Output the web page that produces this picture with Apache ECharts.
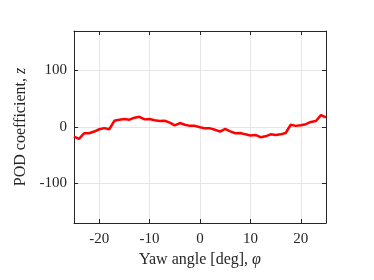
<!DOCTYPE html>
<html><head><meta charset="utf-8">
<script src="https://cdn.jsdelivr.net/npm/echarts@6/dist/echarts.min.js"></script>
<style>html,body{margin:0;padding:0;background:#fff}#c{width:374px;height:280px}</style>
</head><body><div id="c"></div>
<script>
var yawAngles = [-25,-24,-23,-22,-21,-20,-19,-18,-17,-16,-15,-14,-13,-12,-11,-10,-9,-8,-7,-6,-5,-4,-3,-2,-1,0,1,2,3,4,5,6,7,8,9,10,11,12,13,14,15,16,17,18,19,20,21,22,23,24,25];
var podCoeff = [-17,-21,-11,-11,-8,-4,-2,-4,11,13,14,13,16.5,18,13.5,14,12,10.6,11,7.7,3,7,4,2,2,-0.5,-2.4,-2.4,-5,-8,-3.5,-7.7,-11,-10.6,-13,-15,-14,-18,-16.5,-13,-14,-13,-10.6,4,2,3,5,9,10.6,21,17];
var xTicks = [-20,-10,0,10,20];
var yTicks = [-100,0,100];

var data = yawAngles.map(function(x,i){return [x,podCoeff[i]];});
var font = 'Liberation Serif';
var axisColor = '#262626';
function mkAxis(opts){
  return Object.assign({
    type:'value',
    axisLine:{show:true,onZero:false,lineStyle:{color:axisColor,width:1}},
    splitLine:{show:false}
  }, opts);
}
var chart = echarts.init(document.getElementById('c'), null, {renderer:'canvas'});
chart.setOption({
  animation:false,
  grid:{left:74,right:48,top:31,bottom:57},
  xAxis:[mkAxis({
    min:-25,max:25,position:'bottom',
    axisTick:{show:true,inside:true,length:4,customValues:xTicks,lineStyle:{color:axisColor}},
    axisLabel:{color:axisColor,fontFamily:font,fontSize:15,margin:9,customValues:xTicks},
    splitLine:{show:true,lineStyle:{color:'#e6e6e6',width:1}},
    name:'{n|Yaw angle [deg], }{i|φ}',nameLocation:'middle',nameGap:27,
    nameTextStyle:{rich:{n:{fontFamily:font,fontSize:16,color:axisColor},i:{fontFamily:font,fontSize:16,fontStyle:'italic',color:axisColor}}}
  }),mkAxis({
    min:-25,max:25,position:'top',
    axisTick:{show:true,inside:true,length:4,customValues:xTicks,lineStyle:{color:axisColor}},
    axisLabel:{show:false}
  })],
  yAxis:[mkAxis({
    min:-170,max:170,position:'left',
    axisTick:{show:true,inside:true,length:4,customValues:yTicks,lineStyle:{color:axisColor}},
    axisLabel:{color:axisColor,fontFamily:font,fontSize:15,margin:7,customValues:yTicks},
    splitLine:{show:true,lineStyle:{color:'#e6e6e6',width:1}},
    name:'{n|POD coefficient, }{i|z}',nameLocation:'middle',nameGap:33,
    nameTextStyle:{rich:{n:{fontFamily:font,fontSize:16,color:axisColor},i:{fontFamily:font,fontSize:16,fontStyle:'italic',color:axisColor}}}
  }),mkAxis({
    min:-170,max:170,position:'right',
    axisTick:{show:true,inside:true,length:4,customValues:yTicks,lineStyle:{color:axisColor}},
    axisLabel:{show:false}
  })],
  series:[{type:'line',data:data,showSymbol:false,lineStyle:{color:'#ff0000',width:2.5},xAxisIndex:0,yAxisIndex:0}]
});
</script></body></html>
